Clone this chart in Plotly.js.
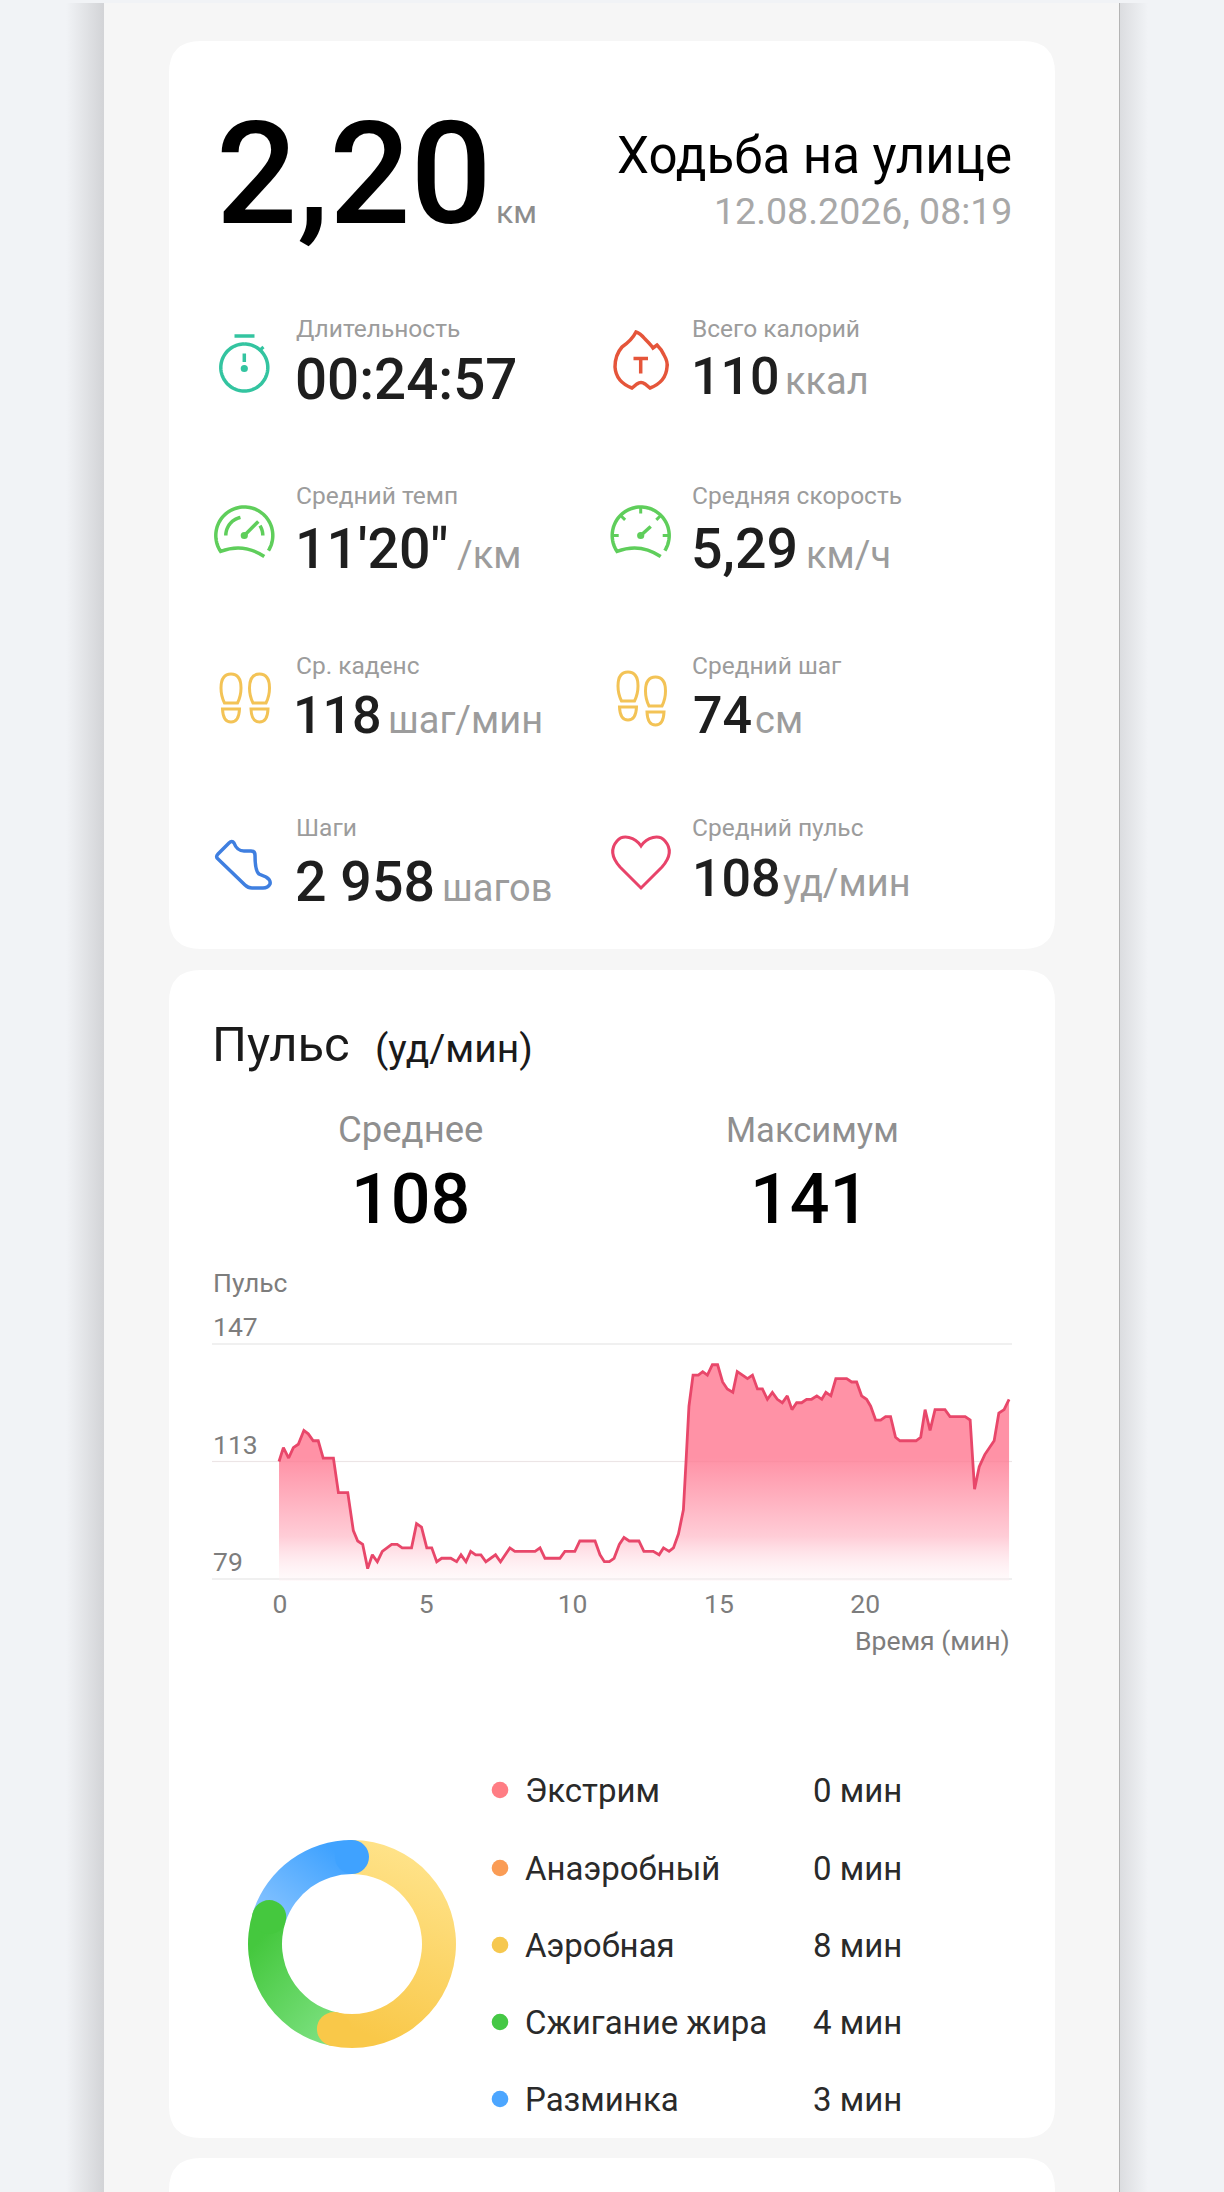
<!DOCTYPE html>
<html><head><meta charset="utf-8">
<script src="https://cdn.plot.ly/plotly-3.0.1.min.js"></script>
<style>
html,body{margin:0;padding:0;width:1224px;height:2192px;overflow:hidden;background:#f1f3f6}
#side-left{position:absolute;left:66px;top:3px;width:38px;height:2189px;background:linear-gradient(to right,rgba(205,206,209,0),rgba(205,206,209,.85))}
#side-right{position:absolute;left:1120px;top:3px;width:28px;height:2189px;background:linear-gradient(to left,rgba(205,206,209,0),rgba(205,206,209,.6))}
#sheet{position:absolute;left:104px;top:3px;width:1015px;height:2189px;background:#f6f6f6;border-right:1px solid #b4b4b4}
#chart{position:absolute;left:0;top:0;width:1224px;height:2192px}
</style></head><body>
<div id="side-left"></div><div id="side-right"></div><div id="sheet"></div><div id="chart"></div>
<script>
// ---- data ----
const hrMinutes=[0,0.15,0.33,0.49,0.66,0.85,1.0,1.17,1.34,1.51,1.86,2.03,2.35,2.54,2.69,2.86,3.03,3.19,3.36,3.53,3.85,4.04,4.21,4.53,4.70,4.87,5.05,5.22,5.39,5.56,5.87,6.07,6.22,6.39,6.55,6.72,6.90,7.07,7.40,7.57,7.89,8.06,8.75,8.92,9.09,9.60,9.77,10.11,10.28,10.80,10.97,11.12,11.29,11.45,11.63,11.79,11.97,12.30,12.47,12.79,12.99,13.14,13.33,13.48,13.65,13.82,13.91,14.01,14.15,14.33,14.48,14.64,14.81,14.99,15.16,15.32,15.51,15.66,15.84,16.01,16.18,16.35,16.52,16.69,16.86,17.03,17.20,17.37,17.53,17.69,17.86,18.03,18.20,18.38,18.55,18.69,18.86,19.03,19.40,19.57,19.74,19.91,20.08,20.22,20.39,20.56,20.73,20.90,21.07,21.22,21.77,21.93,22.08,22.25,22.42,22.76,22.93,23.45,23.62,23.77,23.93,24.12,24.44,24.60,24.78,24.95];
const hrBpm=[113,117,114,117,118,122,121,119,119,114,114,104,104,93,90,89,82,86,84,87,89,89,88,88,95,94,88,88,84,85,85,84,86,84,87,86,86,84,86,84,88,87,87,88,85,85,87,87,90,90,86,84,84,85,89,91,90,90,87,87,86,88,87,88,92,99,113,129,138,138,139,138,141,141,136,134,133,139,138,137,138,134,134,131,133,131,130,132,128,130,130,131,131,132,131,133,132,137,137,136,136,132,131,129,125,125,126,126,120,119,119,120,128,122,128,128,126,126,125,105,111.5,115,119,127,128,131];
const xTicks=[0,5,10,15,20];
const yTicks=[79,113,147];
const zoneNames=['Экстрим','Анаэробный','Аэробная','Сжигание жира','Разминка'];
const zoneMinutes=[0,0,8,4,3];
const zoneColors=['#FF7D84','#FA9C55','#F6C84F','#45C845','#4CA6FF'];
const metricLabels=['Длительность','Всего калорий','Средний темп','Средняя скорость','Ср. каденс','Средний шаг','Шаги','Средний пульс'];
const metricValues=['00:24:57','110',"11'20\"",'5,29','118','74','2 958','108'];
const metricUnits=['','ккал','/км','км/ч','шаг/мин','см','шагов','уд/мин'];

// ---- page helpers ----
const W=1224,H=2192,FONT='Roboto, "Noto Sans", sans-serif';
const fx=p=>p/W, fy=p=>1-p/H;
const ann=[], shapes=[];
function T(text,x,base,size,color,anchor,weight){
  ann.push({text:text,xref:'paper',yref:'paper',x:fx(x),y:fy(base+0.245*size),xanchor:anchor||'left',yanchor:'bottom',
    showarrow:false,borderpad:0,borderwidth:0,font:{family:FONT,size:size,color:color,weight:weight||400}});
}
function px(path){ // absolute pixel path -> paper path
  return path.replace(/(-?[\d.]+)[ ,](-?[\d.]+)/g,(m,a,b)=>fx(+a).toFixed(6)+','+fy(+b).toFixed(6));
}
function stroke(path,color,w,fill){shapes.push({type:'path',xref:'paper',yref:'paper',layer:'above',path:px(path),line:{color:color,width:w},fillcolor:fill||'rgba(0,0,0,0)'});}
function disc(cx,cy,r,color,layer){shapes.push({type:'circle',xref:'paper',yref:'paper',layer:layer||'above',x0:fx(cx-r),x1:fx(cx+r),y0:fy(cy+r),y1:fy(cy-r),fillcolor:color,line:{width:0}});}
function arc(cx,cy,r,a0,a1,join){let s='';const n=Math.max(4,Math.ceil(Math.abs(a1-a0)/4));
  for(let i=0;i<=n;i++){const a=(a0+(a1-a0)*i/n)*Math.PI/180;s+=((i||join)?'L':'M')+(cx+r*Math.sin(a)).toFixed(2)+','+(cy-r*Math.cos(a)).toFixed(2)+' ';}return s;}
function card(x0,y0,x1,y1,r){shapes.push({type:'path',xref:'paper',yref:'paper',layer:'below',fillcolor:'#ffffff',line:{width:0},
  path:px(`M${x0+r},${y0} L${x1-r},${y0} Q${x1},${y0} ${x1},${y0+r} L${x1},${y1-r} Q${x1},${y1} ${x1-r},${y1} L${x0+r},${y1} Q${x0},${y1} ${x0},${y1-r} L${x0},${y0+r} Q${x0},${y0} ${x0+r},${y0} Z`)});}

card(169,41,1055,949,32);card(169,970,1055,2138,32);card(169,2158,1055,2260,32);

// ---- header ----
const INK='#1e1e1e',GREY='#9c9c9c';
T('2,20',216,223,143,'#000000','left',500);
T('км',496,223,32,'#8d8d8d');
T('Ходьба на улице',1012,173,51,'#000000','right');
T('12.08.2026, 08:19',1012,224,37.5,'#a8a8a8','right');

// ---- metrics grid ----
const mLabel=[[296,337],[692,337],[296,504],[692,504],[296,674],[692,674],[296,836],[692,836]];
const mValue=[[295,399],[691,394],[295,568],[691,568],[293,733],[693,733],[295,901],[692,896]];
const mSize=[56.5,52,55.5,55.5,52,52,55.5,52];
const mUnit=[[0,0],[785,394],[457,568],[806,568],[388,733],[755,733],[442,901],[783,896]];
metricLabels.forEach((t,i)=>{
  T(t,mLabel[i][0],mLabel[i][1],24.5,GREY);
  T(metricValues[i],mValue[i][0],mValue[i][1],mSize[i],INK,'left',500);
  if(metricUnits[i])T(metricUnits[i],mUnit[i][0],mUnit[i][1],38,GREY);
});

// ---- icons ----
const TEAL='#33C4A0',GREEN='#5FCE5B',FLAME='#E5553A',GOLD='#F3C356',BLUE='#3F7FE0',HEART='#E8436A';
stroke('M234.5,336 L254.5,336',TEAL,3.5);
stroke(arc(244.3,367.5,23.5,0,360),TEAL,3.5);
stroke('M244.3,353.5 L244.3,362',TEAL,3.5);
stroke('M259.5,350.5 L263.5,347',TEAL,3);
disc(244.3,368.5,3.6,TEAL);
function gauge(cx,cy,marks){
  stroke(arc(cx,cy,28.5,122,-124)+`Q${cx-1},${cy+7} ${cx+20},${cy+21}`,GREEN,3.5);
  if(marks){[-90,-45,0,45,90].forEach(a=>{const r=a*Math.PI/180;
    stroke(`M${(cx+28*Math.sin(r)).toFixed(1)},${(cy-28*Math.cos(r)).toFixed(1)} L${(cx+22*Math.sin(r)).toFixed(1)},${(cy-22*Math.cos(r)).toFixed(1)}`,GREEN,3);});}
  else{stroke(arc(cx,cy,18.5,-90,-12),GREEN,3.5);stroke(arc(cx,cy,18.5,58,90),GREEN,3.5);}
  stroke(`M${cx},${cy} L${cx+(marks?10:14)},${cy-(marks?9:14)}`,GREEN,3.5);
  disc(cx,cy,3.6,GREEN);
}
gauge(244.3,535.5,false);gauge(640.7,535.5,true);
stroke('M636,332 Q640,333 645,339 Q651,345 653,348 L657,345 Q662,350 664,355 Q668,362 667,367 Q666,382 650,388 L645,384 Q641,381 637,384 L632,388 Q616,382 615,367 Q615,355 622,347 Q632,340 636,332 Z',FLAME,3.5);
stroke('M633.5,358.5 L648,358.5 M640.7,358.5 L640.7,373.5',FLAME,3.5);
function foot(cx,t){
  stroke(`M${cx-10},${t+14} Q${cx-10},${t} ${cx},${t} Q${cx+10},${t} ${cx+10},${t+14} Q${cx+10},${t+22} ${cx+6.5},${t+29} L${cx-6.5},${t+29} Q${cx-10},${t+22} ${cx-10},${t+14} Z`,GOLD,3);
  stroke(`M${cx-8.5},${t+35} L${cx+8.5},${t+35} Q${cx+8},${t+48} ${cx},${t+48} Q${cx-8},${t+48} ${cx-8.5},${t+35} Z`,GOLD,3);
}
foot(231,674);foot(259.5,674);foot(628,672);foot(655.5,677);
stroke('M217,858 Q216,856 218,854 L229,843 Q232,840 234,843 Q237,851 244,851 L251,851 Q255,851 255,855 Q255,871 259,874 L266,877 Q271,880 270,884 Q268,888 263,888 L252,888 Q248,888 245,885 Z',BLUE,3.5);
stroke('M641,846 C635,837 623,834 617,841 C610,849 612,858 620,867 L641,888 L662,867 C670,858 672,849 665,841 C659,834 647,837 641,846 Z',HEART,3);

// ---- pulse section texts ----
T('Пульс',212,1061,49,'#1a1a1a');
T('(уд/мин)',375,1062,39,'#1a1a1a');
T('Среднее',411,1142,36.5,'#8f8f8f','center');
T('108',411,1223,70,'#000000','center',500);
T('Максимум',812,1142,34.5,'#8f8f8f','center');
T('141',809,1223,70,'#000000','center',500);
T('Пульс',213,1292,26.5,'#7d7d7d');
T('Время (мин)',1010,1650,26.5,'#7d7d7d','right');
const chartX=[212,1012],chartY=[1342,1581];
const yPad=2/3.456; // keeps the end gridlines inside the plot
shapes.push({type:'line',xref:'paper',yref:'y',layer:'above',x0:fx(chartX[0]),x1:fx(chartX[1]),y0:113,y1:113,line:{color:'rgba(190,60,90,0.06)',width:1.5}});

// ---- zones ----
const donut={cx:352,cy:1944,R:104,r:70};
const zoneRowY=[1790,1868,1945,2022,2099];
zoneNames.forEach((n,i)=>{
  disc(500,zoneRowY[i],8.3,zoneColors[i],'below');
  T(n,525,zoneRowY[i]+12,33,'#2a2a2a');
  T(zoneMinutes[i]+' мин',813,zoneRowY[i]+12,33,'#2a2a2a');
});
const capColors={2:'#F9C849',3:'#45C83E',4:'#3FA2FF'};
const total=zoneMinutes.reduce((a,b)=>a+b,0);
let cum=0;
zoneMinutes.forEach((m,i)=>{cum+=m;if(!m)return;const a=cum/total*2*Math.PI,rm=(donut.R+donut.r)/2;
  disc(donut.cx+rm*Math.sin(a),donut.cy-rm*Math.cos(a),(donut.R-donut.r)/2,capColors[i]);});

// ---- traces ----
const line={type:'scatter',mode:'lines',x:hrMinutes,y:hrBpm,fill:'tozeroy',hoverinfo:'skip',
  line:{color:'#E8476A',width:2.8,shape:'linear'},
  fillgradient:{type:'vertical',start:79,stop:114,colorscale:[[0,'rgba(255,240,243,0.35)'],[0.35,'rgba(255,205,215,1)'],[1,'rgba(255,146,166,1)']]},
  fillcolor:'rgba(255,146,166,1)',showlegend:false};
const pie={type:'pie',labels:zoneNames,values:zoneMinutes,hole:donut.r/donut.R,sort:false,direction:'clockwise',rotation:0,textinfo:'none',hoverinfo:'skip',showlegend:false,
  marker:{colors:zoneColors,line:{width:0}},
  domain:{x:[fx(donut.cx-donut.R),fx(donut.cx+donut.R)],y:[fy(donut.cy+donut.R),fy(donut.cy-donut.R)]}};

const layout={width:W,height:H,margin:{l:0,r:0,t:0,b:0},paper_bgcolor:'rgba(0,0,0,0)',plot_bgcolor:'rgba(0,0,0,0)',showlegend:false,
  font:{family:FONT},annotations:ann,shapes:shapes,
  xaxis:{domain:[fx(chartX[0]),fx(chartX[1])],range:[-2.29,25.05],tickmode:'array',tickvals:xTicks,ticktext:xTicks.map(String),showgrid:false,zeroline:false,showline:false,ticks:'',
    tickfont:{family:FONT,size:26.5,color:'#7d7d7d'},ticklabelstandoff:4,ticklabelshift:1,fixedrange:true},
  yaxis:{domain:[fy(chartY[1]),fy(chartY[0])],range:[yTicks[0]-yPad,yTicks[2]+yPad],tickmode:'array',tickvals:yTicks,ticktext:yTicks.map(String),showgrid:true,gridcolor:'#f0f0f0',gridwidth:1.5,zeroline:false,showline:false,ticks:'',
    ticklabelposition:'inside',ticklabeloverflow:'allow',ticklabelshift:-17,ticklabelstandoff:-2,tickfont:{family:FONT,size:26.5,color:'#7d7d7d'},fixedrange:true}};

Plotly.newPlot('chart',[line,pie],layout,{staticPlot:true,displayModeBar:false}).then(gd=>{
  // gradients along each ring segment
  const grads={2:['#FFE38A','#F9C849',0.45,0,0.22,0.92],3:['#7FE283','#45C83E',0.9,1,0.25,0.12],4:['#8FC7FF','#3FA2FF',0,1,0.82,0.12]};
  const NS='http://www.w3.org/2000/svg',svg=gd.querySelector('.main-svg'),defs=svg.querySelector('defs')||svg.insertBefore(document.createElementNS(NS,'defs'),svg.firstChild);
  gd.querySelectorAll('.slice path.surface').forEach(p=>{
    const i=p.__data__&&p.__data__.i,g=grads[i];if(!g)return;
    const lg=document.createElementNS(NS,'linearGradient');lg.id='zone'+i;
    [['x1',g[2]],['y1',g[3]],['x2',g[4]],['y2',g[5]]].forEach(a=>lg.setAttribute(a[0],a[1]));
    [[0,g[0]],[1,g[1]]].forEach(s=>{const st=document.createElementNS(NS,'stop');st.setAttribute('offset',s[0]);st.setAttribute('stop-color',s[1]);lg.appendChild(st);});
    defs.appendChild(lg);p.style.fill='url(#zone'+i+')';
  });
});
</script></body></html>
